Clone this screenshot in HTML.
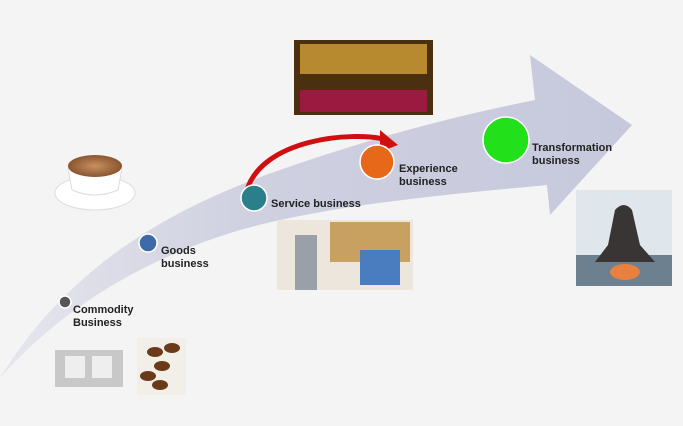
<!DOCTYPE html>
<html><head><style>
body{margin:0;width:683px;height:426px;background:#f4f4f4;overflow:hidden;position:relative;font-family:"Liberation Sans",sans-serif}
.t{position:absolute;font-weight:bold;font-size:11px;line-height:13px;color:#222}
.img{position:absolute}
</style></head><body>
<svg width="683" height="426" style="position:absolute;left:0;top:0">
<defs>
<linearGradient id="g" x1="0" y1="0" x2="1" y2="0">
<stop offset="0" stop-color="#e6e6ee"/><stop offset="0.4" stop-color="#cfd0e0"/><stop offset="1" stop-color="#c6c8dc"/>
</linearGradient>
<radialGradient id="cup"><stop offset="0" stop-color="#c89060"/><stop offset="1" stop-color="#8a5530"/></radialGradient>
</defs>
<path d="M0,378 C60,280 150,215 280,170 C380,135 460,115 535,100 L530,55 L632,125 L550,215 L547,185 C440,195 330,205 240,230 C140,260 60,310 0,378 Z" fill="url(#g)"/>
<path d="M247,190 C262,140 350,130 388,140" fill="none" stroke="#d01010" stroke-width="5"/>
<polygon points="380,130 398,145 380,152" fill="#d01010"/>
<circle cx="65" cy="302" r="6" fill="#5a5555" stroke="#fff" stroke-width="1.5"/>
<circle cx="148" cy="243" r="9" fill="#3e6aa8" stroke="#fff" stroke-width="1.5"/>
<circle cx="254" cy="198" r="13" fill="#2a7f8a" stroke="#fff" stroke-width="1.5"/>
<circle cx="377" cy="162" r="17" fill="#e8681a" stroke="#fff" stroke-width="1.5"/>
<circle cx="506" cy="140" r="23" fill="#22e01a" stroke="#fff" stroke-width="1.5"/>
<!-- coffee -->
<ellipse cx="95" cy="193" rx="40" ry="17" fill="#fff" stroke="#ddd"/>
<path d="M68,168 L72,190 Q95,200 118,190 L122,168 Z" fill="#fff" stroke="#ddd"/>
<ellipse cx="95" cy="166" rx="27" ry="11" fill="url(#cup)"/>
<!-- images -->
<rect x="294" y="40" width="139" height="75" fill="#4a3010"/>
<rect x="300" y="44" width="127" height="30" fill="#b88a30"/>
<rect x="300" y="90" width="127" height="22" fill="#9a1a40"/>
<rect x="277" y="220" width="136" height="70" fill="#ece6dc"/>
<rect x="330" y="222" width="80" height="40" fill="#c8a060"/>
<rect x="295" y="235" width="22" height="55" fill="#9aa0a8"/>
<rect x="360" y="250" width="40" height="35" fill="#4a7cc0"/>
<rect x="576" y="190" width="96" height="96" fill="#dfe6ec"/>
<rect x="576" y="255" width="96" height="31" fill="#6c8090"/>
<path d="M615,210 Q624,200 632,210 L640,245 L655,262 L595,262 L608,245 Z" fill="#3a3535"/>
<ellipse cx="625" cy="272" rx="15" ry="8" fill="#e88040"/>
<rect x="55" y="350" width="68" height="37" fill="#c8c8c8"/>
<rect x="65" y="356" width="20" height="22" fill="#eee"/><rect x="92" y="356" width="20" height="22" fill="#eee"/>
<rect x="137" y="338" width="49" height="57" fill="#f2eee8"/>
<ellipse cx="155" cy="352" rx="8" ry="5" fill="#6a3a1a"/><ellipse cx="172" cy="348" rx="8" ry="5" fill="#6a3a1a"/>
<ellipse cx="162" cy="366" rx="8" ry="5" fill="#6a3a1a"/><ellipse cx="148" cy="376" rx="8" ry="5" fill="#6a3a1a"/>
<ellipse cx="160" cy="385" rx="8" ry="5" fill="#6a3a1a"/>
</svg>
<div class="t" style="left:73px;top:304px">Commodity<br>Business</div>
<div class="t" style="left:161px;top:245px">Goods<br>business</div>
<div class="t" style="left:271px;top:198px">Service business</div>
<div class="t" style="left:399px;top:163px">Experience<br>business</div>
<div class="t" style="left:532px;top:142px">Transformation<br>business</div>
</body></html>
